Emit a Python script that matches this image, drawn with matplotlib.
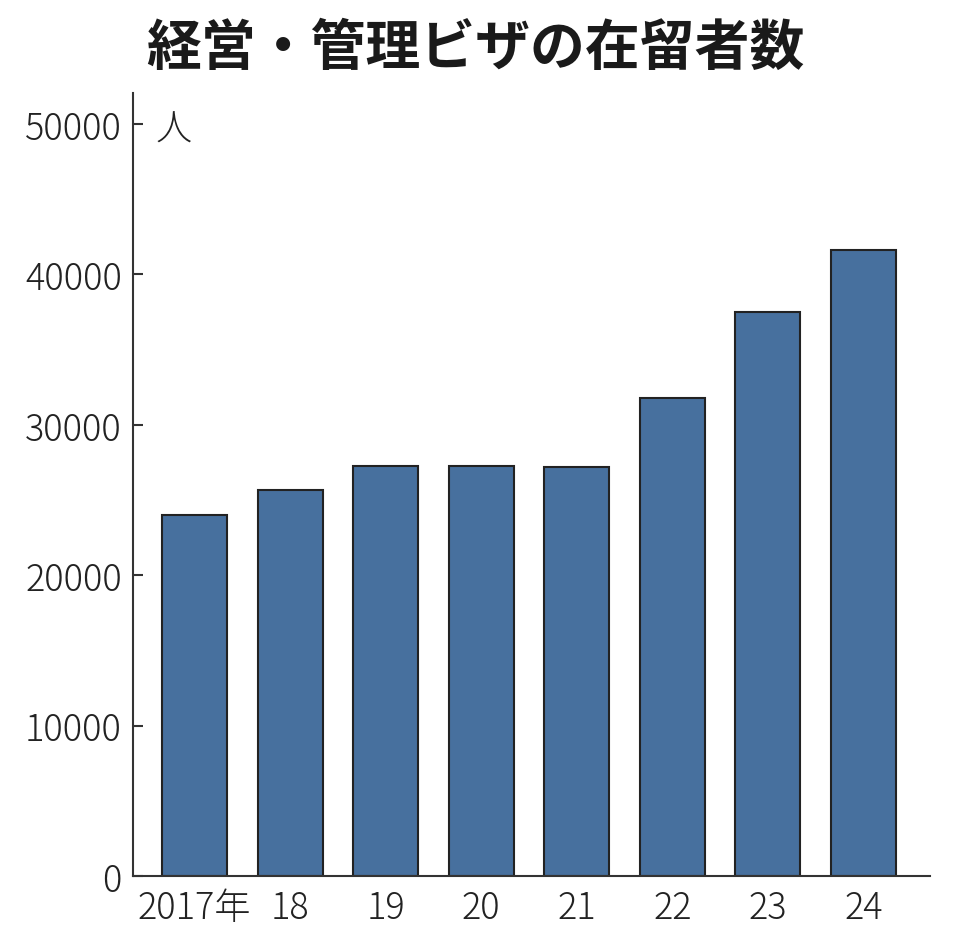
import matplotlib
matplotlib.use("Agg")
import matplotlib.pyplot as plt

years = ["2017年", "18", "19", "20", "21", "22", "23", "24"]
values = [24033, 25670, 27249, 27235, 27197, 31808, 37510, 41615]
yticks = [0, 10000, 20000, 30000, 40000, 50000]
title = "経営・管理ビザの在留者数"
unit = "人"

plt.rcParams['font.family'] = ['Noto Sans CJK JP', 'DejaVu Sans']

fig = plt.figure(figsize=(9.63, 9.37), dpi=100)
ax = fig.add_axes([133/963, 1-877/937, (930-133)/963, (877-94)/937])

x = list(range(len(values)))
ax.bar(x, values, width=0.68, color="#47709e", edgecolor="#222222", linewidth=1.5, zorder=2)
ax.set_xlim(-0.643, 7.696)
ax.set_ylim(0, 52060)

for s in ["top", "right"]:
    ax.spines[s].set_visible(False)
for s in ["left", "bottom"]:
    ax.spines[s].set_linewidth(1.5)
    ax.spines[s].set_color("#333333")

ax.set_yticks(yticks)
ax.set_yticklabels([str(v) for v in yticks], fontsize=26, fontweight="light", color="#222222")
ax.tick_params(axis="y", direction="in", length=7, width=1.5, pad=8, color="#333333")
ax.set_xticks(x)
ax.set_xticklabels(years, fontsize=26, fontweight="light", color="#222222")
ax.tick_params(axis="x", length=0, pad=9)

fig.text(155/963, 1-130/937, unit, fontsize=26, fontweight="light",
         va="center", ha="left", color="#222222")
fig.text(475/963, 1-48/937, title, fontsize=39.5, fontweight="bold", ha="center", va="center",
         color="#1a1a1a")

fig.savefig("out.png", dpi=100, facecolor="white")
